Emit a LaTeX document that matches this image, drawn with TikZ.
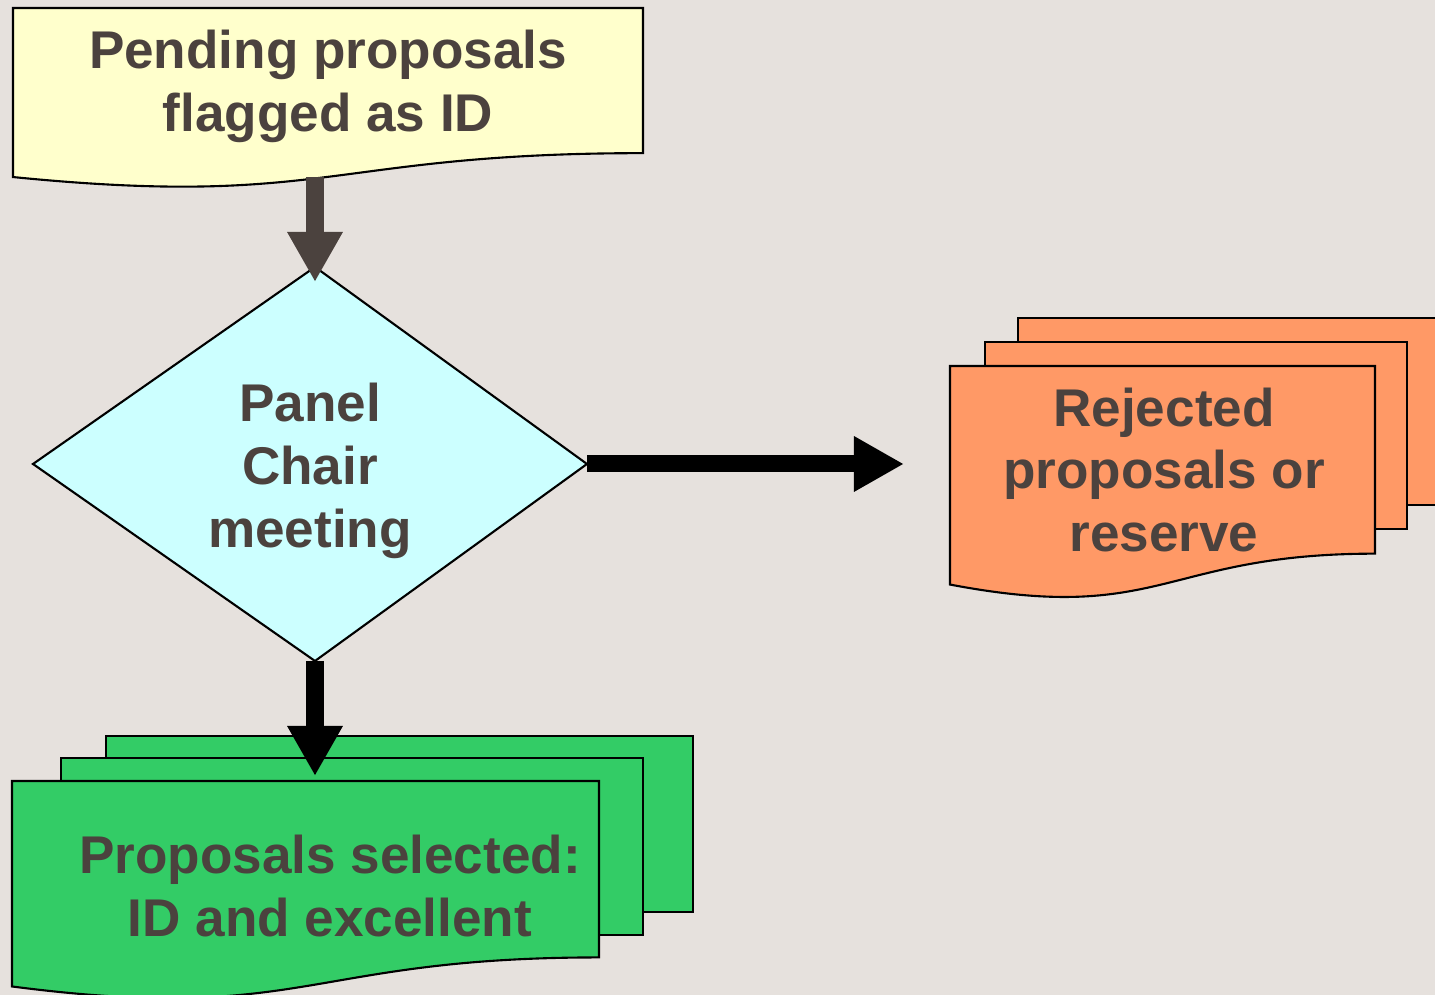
\documentclass[tikz,border=0pt]{standalone}
\usepackage{fontspec}
\setmainfont{Liberation Sans}
\usetikzlibrary{arrows.meta}

\definecolor{bgcol}{RGB}{230,225,221}
\definecolor{txtcol}{RGB}{75,66,62}
\definecolor{pendcol}{RGB}{255,255,204}
\definecolor{chaircol}{RGB}{204,255,255}
\definecolor{rejcol}{RGB}{255,153,102}
\definecolor{selcol}{RGB}{51,204,102}

% document sheet with wavy bottom: style, left, right, top, height
\newcommand{\wavydoc}[5]{%
  \draw[#1] (#2,#4) -- (#3,#4) -- (#3,{#4+0.802*#5})
    .. controls ({(#2+#3)/2},{#4+0.802*#5}) and ({(#2+#3)/2},{#4+1.107*#5}) .. (#2,{#4+0.934*#5}) -- cycle;}

\begin{document}
\begin{tikzpicture}[x=0.01cm,y=-0.01cm,
    sheet/.style={draw=black,line width=0.6pt},
    doctext/.style={font=\bfseries\fontsize{15.1}{17.9}\selectfont,text=txtcol,align=center,inner sep=0pt},
    bigarrow/.style={line width=0.17cm,-{Triangle[length=0.5cm,width=0.52cm]}}]

      \fill[bgcol] (0,0) rectangle (1435,995);
      \useasboundingbox (0,0) rectangle (1435,995);

      % pending proposals
      \wavydoc{sheet,fill=pendcol}{13}{643}{8}{181}

      % panel chair decision
      \coordinate (dtop) at (315,267);
      \coordinate (dright) at (587,464);
      \coordinate (dbot) at (315,661);
      \coordinate (dleft) at (33,464);
      \draw[sheet,fill=chaircol] (dtop) -- (dright) -- (dbot) -- (dleft) -- cycle;

      % rejected stack
      \draw[sheet,fill=rejcol] (1018,318) rectangle (1450,505);
      \draw[sheet,fill=rejcol] (985,342) rectangle (1407,529);
      \wavydoc{sheet,fill=rejcol}{950}{1375}{366}{234}

      % selected stack
      \draw[sheet,fill=selcol] (106,736) rectangle (693,912);
      \draw[sheet,fill=selcol] (61,758) rectangle (643,935);
      \wavydoc{sheet,fill=selcol}{12}{599}{781}{220}

      \node[doctext] (pend) at (328,86) {Pending proposals\\flagged as ID};
      \node[doctext] (chair) at (310,471) {Panel\\Chair\\meeting};
      \node[doctext] (rej) at (1164,470) {Rejected\\proposals or\\reserve};
      \node[doctext] (sel) at (330,886) {Proposals selected:\\ID and excellent};

      \coordinate (pendout) at (315,177);
      \coordinate (pendtip) at (315,282);
      \coordinate (seltip) at (315,776);
      \coordinate (rejtip) at (904,464);

      \path[bigarrow]
        (pendout) edge [draw=txtcol] (pendtip)
        (dbot) edge [draw=black] (seltip)
        (dright) edge [draw=black] (rejtip);
    \end{tikzpicture}
\end{document}
